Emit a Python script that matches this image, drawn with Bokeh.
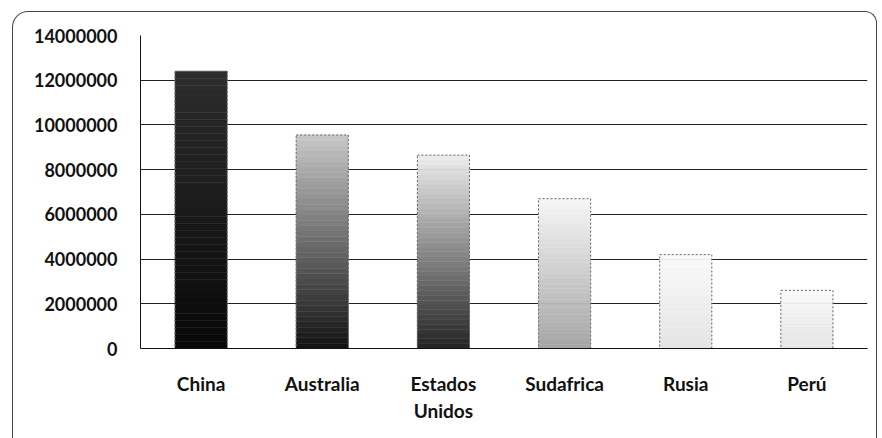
from bokeh.plotting import figure
from bokeh.models import ColumnDataSource, FactorRange, Range1d, NumeralTickFormatter, FixedTicker, InlineStyleSheet
from bokeh.embed import file_html
from bokeh.resources import INLINE

# ---- data ----
countries = ["China", "Australia", "Estados\nUnidos", "Sudafrica", "Rusia", "Perú"]
values = [12400000, 9550000, 8650000, 6700000, 4200000, 2600000]
y_ticks = [0, 2000000, 4000000, 6000000, 8000000, 10000000, 12000000, 14000000]

# ---- style: gray level at bottom / top of each bar (emulates the gradient fill) ----
bottom_gray = [8, 18, 35, 165, 228, 228]
top_gray = [45, 200, 238, 246, 250, 250]

N = 40
xs, bots, tops, cols = [], [], [], []
for i, (c, v) in enumerate(zip(countries, values)):
    for k in range(N):
        t = (k + 0.5) / N
        g = int(round(bottom_gray[i] + (top_gray[i] - bottom_gray[i]) * t))
        xs.append(c)
        bots.append(v * k / N)
        tops.append(v * (k + 1) / N)
        cols.append("#%02x%02x%02x" % (g, g, g))
src = ColumnDataSource(dict(x=xs, bottom=bots, top=tops, color=cols))

p = figure(
    width=882, height=438,
    x_range=FactorRange(*countries, range_padding=0),
    y_range=Range1d(0, 14000000),
    output_backend="svg", toolbar_location=None,
    min_border_left=140, min_border_right=15, min_border_top=35, min_border_bottom=90,
)
p.outline_line_color = None
p.background_fill_color = "white"
p.border_fill_color = "white"
p.stylesheets = [InlineStyleSheet(css="""
:host::after {
  content: "";
  position: absolute;
  left: 12px; top: 11px; right: 5px; bottom: 0px;
  border: 1px solid #444444;
  border-bottom: none;
  border-radius: 16px 12px 0 0;
  pointer-events: none;
  z-index: 10;
}
""")]

p.vbar(x="x", bottom="bottom", top="top", width=0.43, fill_color="color",
       line_color="color", line_width=0.5, source=src)
p.vbar(x=countries, top=values, width=0.43, fill_color=None, line_color="#666666",
       line_width=1, line_dash="2 2")

p.xgrid.grid_line_color = None
p.ygrid.grid_line_color = "#222222"
p.ygrid.grid_line_width = 1
p.ygrid.ticker = FixedTicker(ticks=y_ticks)

p.yaxis.ticker = FixedTicker(ticks=y_ticks)
p.yaxis.formatter = NumeralTickFormatter(format="0")
p.yaxis.major_tick_line_color = None
p.yaxis.minor_tick_line_color = None
p.yaxis.axis_line_color = "#111111"
p.yaxis.major_label_standoff = 17
p.yaxis.major_label_text_font = "Lato"
p.yaxis.major_label_text_font_style = "bold"
p.yaxis.major_label_text_font_size = "18px"
p.yaxis.major_label_text_color = "#111111"

p.xaxis.major_tick_line_color = None
p.xaxis.axis_line_color = "#111111"
p.xaxis.major_label_standoff = 17
p.xaxis.major_label_text_font = "Lato"
p.xaxis.major_label_text_font_style = "bold"
p.xaxis.major_label_text_font_size = "19px"
p.xaxis.major_label_text_color = "#111111"

open("out.html", "w").write(file_html(p, INLINE))
